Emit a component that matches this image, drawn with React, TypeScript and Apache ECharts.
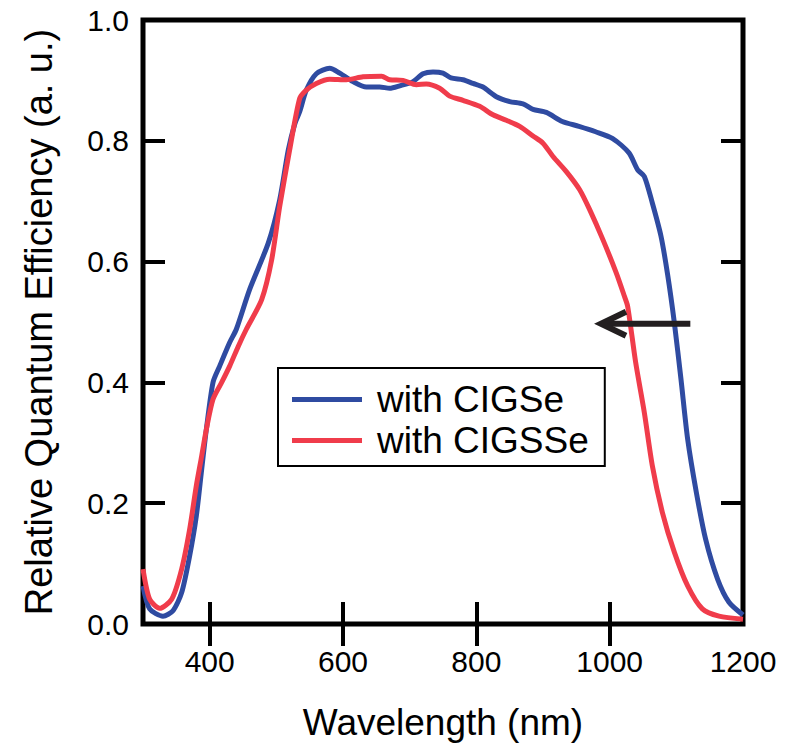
import React, { useEffect, useRef } from "react";
import * as echarts from "echarts";

// CIGSe (blue) — wavelength (nm) and relative QE
const cigseWavelength = [300, 310, 330, 345, 358, 370, 380, 388, 395, 405, 415, 430, 440, 460, 488, 505, 518, 528, 535, 545, 560, 580, 595, 615, 635, 655, 670, 685, 705, 720, 735, 750, 762, 780, 795, 810, 830, 850, 870, 885, 905, 929, 954, 979, 1004, 1029, 1042, 1052, 1064, 1077, 1087, 1097, 1107, 1117, 1130, 1144, 1162, 1179, 1200];
const cigseQE = [0.063, 0.025, 0.013, 0.022, 0.052, 0.113, 0.179, 0.256, 0.322, 0.4, 0.427, 0.466, 0.488, 0.554, 0.631, 0.702, 0.785, 0.829, 0.848, 0.884, 0.911, 0.92, 0.912, 0.898, 0.889, 0.889, 0.887, 0.891, 0.898, 0.911, 0.914, 0.912, 0.904, 0.901, 0.895, 0.889, 0.873, 0.865, 0.861, 0.852, 0.847, 0.832, 0.824, 0.815, 0.804, 0.78, 0.752, 0.741, 0.697, 0.642, 0.578, 0.499, 0.405, 0.306, 0.218, 0.14, 0.074, 0.036, 0.015];

// CIGSSe (red)
const cigsseWavelength = [300, 310, 325, 343, 358, 370, 380, 388, 395, 405, 418, 430, 443, 455, 478, 493, 505, 520, 535, 545, 560, 580, 605, 630, 658, 670, 690, 710, 725, 745, 760, 780, 805, 825, 845, 865, 885, 900, 915, 935, 955, 970, 990, 1010, 1022, 1027, 1039, 1052, 1064, 1079, 1097, 1117, 1139, 1164, 1200];
const cigsseQE = [0.091, 0.041, 0.026, 0.041, 0.091, 0.157, 0.229, 0.278, 0.322, 0.372, 0.4, 0.427, 0.46, 0.488, 0.537, 0.603, 0.691, 0.785, 0.87, 0.884, 0.895, 0.902, 0.901, 0.906, 0.907, 0.901, 0.9, 0.893, 0.894, 0.887, 0.874, 0.867, 0.857, 0.843, 0.834, 0.824, 0.808, 0.796, 0.774, 0.749, 0.719, 0.686, 0.636, 0.581, 0.543, 0.526, 0.433, 0.35, 0.262, 0.185, 0.119, 0.063, 0.025, 0.013, 0.008];

const seriesNames = ["with CIGSe", "with CIGSSe"];
const xTickValues = [400, 600, 800, 1000];
const xLabelValues = [400, 600, 800, 1000, 1200];
const yTickValues = [0.2, 0.4, 0.6, 0.8];
const arrowStart = [1121, 0.497];
const arrowEnd = [987, 0.497];

const FONT = "'Liberation Sans', Arial, sans-serif";

export default function App() {
  const ref = useRef<HTMLDivElement>(null);
  useEffect(() => {
    if (!ref.current) return;
    const chart = echarts.init(ref.current, null, { renderer: "svg" });
    const tickStyle = { show: true, inside: true, length: 22, lineStyle: { color: "#000", width: 4 } };
    const baseX = { type: "value", min: 300, max: 1200, splitLine: { show: false }, axisLine: { show: false } };
    const baseY = { type: "value", min: 0, max: 1, interval: 0.2, splitLine: { show: false }, axisLine: { show: false } };
    chart.setOption({
      animation: false,
      backgroundColor: "#fff",
      grid: { left: 143, top: 20, width: 600, height: 604, show: true, borderColor: "#000", borderWidth: 5, backgroundColor: "transparent" },
      legend: {
        orient: "vertical",
        left: 278,
        top: 368,
        data: seriesNames,
        icon: "rect",
        itemWidth: 70,
        itemHeight: 5,
        itemGap: 4,
        padding: [13, 16, 7, 14],
        borderColor: "#000",
        borderWidth: 2,
        textStyle: { fontSize: 37, fontFamily: FONT, color: "#000", padding: [0, 0, 0, 10] },
      },
      xAxis: [
        {
          ...baseX,
          position: "bottom",
          axisTick: { ...tickStyle, customValues: xTickValues },
          axisLabel: { customValues: xLabelValues, fontSize: 30, fontFamily: FONT, color: "#000", margin: 22, formatter: (v: number) => String(v) },
          name: "Wavelength (nm)",
          nameLocation: "middle",
          nameGap: 80,
          nameTextStyle: { fontSize: 37, fontFamily: FONT, color: "#000" },
        },
        {
          ...baseX,
          position: "top",
          axisTick: { ...tickStyle, customValues: xTickValues },
          axisLabel: { show: false },
        },
      ],
      yAxis: [
        {
          ...baseY,
          position: "left",
          axisTick: { ...tickStyle, customValues: yTickValues },
          axisLabel: { fontSize: 30, fontFamily: FONT, color: "#000", margin: 14, formatter: (v: number) => v.toFixed(1) },
          name: "Relative Quantum Efficiency (a. u.)",
          nameLocation: "middle",
          nameGap: 85,
          nameTextStyle: { fontSize: 38, fontFamily: FONT, color: "#000" },
        },
        {
          ...baseY,
          position: "right",
          axisTick: { ...tickStyle, customValues: yTickValues },
          axisLabel: { show: false },
        },
      ],
      series: [
        {
          name: seriesNames[0],
          type: "line",
          xAxisIndex: 0,
          yAxisIndex: 0,
          symbol: "none",
          smooth: 0.25,
          color: "#2f4ba1",
          lineStyle: { width: 5, color: "#2f4ba1", join: "round" },
          data: cigseWavelength.map((w, i) => [w, cigseQE[i]]),
        },
        {
          name: seriesNames[1],
          type: "line",
          xAxisIndex: 0,
          yAxisIndex: 0,
          symbol: "none",
          smooth: 0.25,
          color: "#f03c4b",
          lineStyle: { width: 5, color: "#f03c4b", join: "round" },
          data: cigsseWavelength.map((w, i) => [w, cigsseQE[i]]),
        },
      ],
    });
    const p0 = chart.convertToPixel({ xAxisIndex: 0, yAxisIndex: 0 }, arrowStart) as number[];
    const p1 = chart.convertToPixel({ xAxisIndex: 0, yAxisIndex: 0 }, arrowEnd) as number[];
    chart.setOption({
      graphic: [
        { type: "line", shape: { x1: p0[0], y1: p0[1], x2: p1[0] + 3, y2: p1[1] }, style: { stroke: "#231f20", lineWidth: 6 }, z: 100 },
        {
          type: "polyline",
          shape: { points: [[p1[0] + 25, p1[1] - 12], [p1[0], p1[1]], [p1[0] + 25, p1[1] + 12]] },
          style: { stroke: "#231f20", lineWidth: 6, fill: "none", lineJoin: "miter" },
          z: 100,
        },
      ],
    });
    return () => chart.dispose();
  }, []);
  return <div ref={ref} style={{ position: "absolute", left: 0, top: 0, width: 787, height: 748 }} />;
}
